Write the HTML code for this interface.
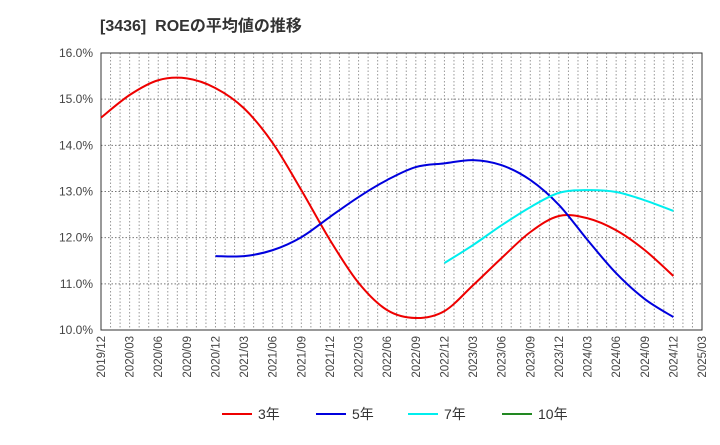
<!DOCTYPE html>
<html><head><meta charset="utf-8"><style>
body{margin:0;background:#fff;font-family:"Liberation Sans","Noto Sans CJK JP",sans-serif}
</style></head><body>
<svg id="c" width="720" height="440" xmlns="http://www.w3.org/2000/svg">
<text x="100" y="31" font-size="16" font-weight="bold" fill="#333" font-family="Liberation Sans, Noto Sans CJK JP, sans-serif">[3436]&#160;&#160;ROEの平均値の推移</text>
<g id="grid"></g><g id="axes"></g><g id="series"></g><g id="legend"></g>
</svg>
<script>
const xLabels=["2019/12","2020/03","2020/06","2020/09","2020/12","2021/03","2021/06","2021/09","2021/12","2022/03","2022/06","2022/09","2022/12","2023/03","2023/06","2023/09","2023/12","2024/03","2024/06","2024/09","2024/12","2025/03"];
const yTicks=[10,11,12,13,14,15,16];
const roe3=[14.6,15.09,15.41,15.45,15.24,14.8,14.05,13.03,11.95,11.02,10.43,10.26,10.41,10.97,11.56,12.12,12.47,12.42,12.16,11.73,11.17];
const roe5=[null,null,null,null,11.6,11.6,11.73,12.01,12.45,12.88,13.25,13.53,13.61,13.68,13.57,13.25,12.71,11.95,11.23,10.67,10.28];
const roe7=[null,null,null,null,null,null,null,null,null,null,null,null,11.45,11.84,12.27,12.66,12.97,13.03,12.99,12.81,12.58];
const roe10=[];
const L=101,R=702,T=53,B=330,NS="http://www.w3.org/2000/svg";
const xs=i=>L+(R-L)*i/(xLabels.length-1);
const ys=v=>B-(v-10)/(16-10)*(B-T);
function mk(t,a,p){const e=document.createElementNS(NS,t);for(const k in a)e.setAttribute(k,a[k]);p.appendChild(e);return e;}
const g=document.getElementById('grid'),ax=document.getElementById('axes'),sg=document.getElementById('series'),lg=document.getElementById('legend');
mk('rect',{x:L,y:T,width:R-L,height:B-T,fill:'#fff'},g);
for(let m=1;m<(xLabels.length-1)*3;m++){const x=L+(R-L)*m/((xLabels.length-1)*3);const l=mk('line',{x1:x,x2:x,y1:T,y2:B,stroke:'#999','stroke-dasharray':'1.5,2','stroke-width':1},g);

}
yTicks.forEach(v=>{const y=ys(v);const l=mk('line',{x1:L,x2:R,y1:y,y2:y,stroke:'#777','stroke-dasharray':'1.5,2'},g);


const t=mk('text',{x:L-8,y:y+4,'text-anchor':'end','font-size':12,fill:'#444'},ax);t.textContent=v.toFixed(1)+'%';

});
mk('rect',{x:L,y:T,width:R-L,height:B-T,fill:'none',stroke:'#333','stroke-width':1},ax);
xLabels.forEach((s,i)=>{const x=xs(i);const t=mk('text',{x:x+4,y:B+6,'text-anchor':'end','font-size':11.5,fill:'#444',transform:`rotate(-90 ${x+4} ${B+6})`},ax);t.textContent=s;

});
function path(arr){const p=[];arr.forEach((v,i)=>{if(v!=null)p.push([xs(i),ys(v)]);});if(p.length<2)return '';
let d=`M${p[0][0]},${p[0][1]}`;for(let i=0;i<p.length-1;i++){const p0=p[i-1]||p[i],p1=p[i],p2=p[i+1],p3=p[i+2]||p2;
d+=` C${p1[0]+(p2[0]-p0[0])/6},${p1[1]+(p2[1]-p0[1])/6} ${p2[0]-(p3[0]-p1[0])/6},${p2[1]-(p3[1]-p1[1])/6} ${p2[0]},${p2[1]}`;}return d;}
const S=[[roe3,'#ee0000','3年','line-3yr'],[roe5,'#0000dd','5年','line-5yr'],[roe7,'#00eeee','7年','line-7yr'],[roe10,'#228822','10年','line-10yr']];
S.forEach(([a,c,n,id],k)=>{const d=path(a);if(d){const e=mk('path',{d:d,fill:'none',stroke:c,'stroke-width':2},sg);

}
const lx=[222,316,408,502][k];
const ln=mk('line',{x1:lx,x2:lx+30,y1:414,y2:414,stroke:c,'stroke-width':2},lg);


const t=mk('text',{x:lx+36,y:419,'font-size':14,fill:'#333'},lg);t.textContent=n;

});
</script>
</body></html>
